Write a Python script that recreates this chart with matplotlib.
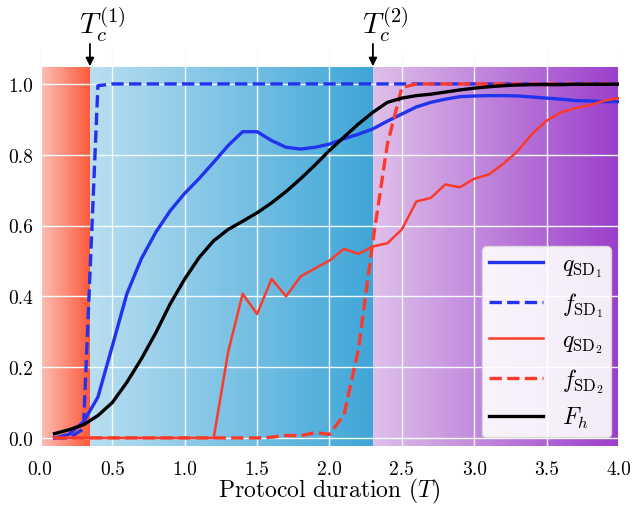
import numpy as np
import matplotlib
matplotlib.use("Agg")
import matplotlib.pyplot as plt
from matplotlib.colors import to_rgb

plt.rcParams['font.family'] = ['serif']
plt.rcParams['font.serif'] = ['cmr10', 'DejaVu Serif']
plt.rcParams['mathtext.fontset'] = 'cm'
plt.rcParams['axes.formatter.use_mathtext'] = True

# ---- data ----
x = [0.1, 0.2, 0.3, 0.4, 0.5, 0.6, 0.7, 0.8, 0.9, 1.0,
     1.1, 1.2, 1.3, 1.4, 1.5, 1.6, 1.7, 1.8, 1.9, 2.0,
     2.1, 2.2, 2.3, 2.4, 2.5, 2.6, 2.7, 2.8, 2.9, 3.0,
     3.1, 3.2, 3.3, 3.4, 3.5, 3.6, 3.7, 3.8, 3.9, 4.0]

q_sd1 = [0.0, 0.01, 0.045, 0.115, 0.26, 0.407, 0.506, 0.581, 0.642, 0.691,
         0.733, 0.779, 0.826, 0.865, 0.865, 0.840, 0.821, 0.816, 0.821, 0.830,
         0.845, 0.858, 0.873, 0.895, 0.915, 0.935, 0.948, 0.957, 0.964, 0.966,
         0.967, 0.967, 0.966, 0.963, 0.960, 0.957, 0.953, 0.952, 0.950, 0.950]

f_sd1 = [0.0, 0.0, 0.025, 0.995, 1.0, 1.0, 1.0, 1.0, 1.0, 1.0,
         1.0, 1.0, 1.0, 1.0, 1.0, 1.0, 1.0, 1.0, 1.0, 1.0,
         1.0, 1.0, 1.0, 1.0, 1.0, 1.0, 1.0, 1.0, 1.0, 1.0,
         1.0, 1.0, 1.0, 1.0, 1.0, 1.0, 1.0, 1.0, 1.0, 1.0]

q_sd2 = [0.0, 0.0, 0.0, 0.0, 0.0, 0.0, 0.0, 0.0, 0.0, 0.0,
         0.0, 0.0, 0.243, 0.407, 0.350, 0.449, 0.400, 0.456, 0.479, 0.501,
         0.534, 0.520, 0.541, 0.550, 0.589, 0.668, 0.678, 0.716, 0.708, 0.732,
         0.744, 0.774, 0.810, 0.859, 0.896, 0.920, 0.932, 0.940, 0.953, 0.960]

f_sd2 = [0.0, 0.0, 0.0, 0.0, 0.0, 0.0, 0.0, 0.0, 0.0, 0.0,
         0.0, 0.0, 0.0, 0.0, 0.0, 0.002, 0.007, 0.006, 0.015, 0.01,
         0.065, 0.25, 0.557, 0.83, 0.99, 1.0, 1.0, 1.0, 1.0, 1.0,
         1.0, 1.0, 1.0, 1.0, 1.0, 1.0, 1.0, 1.0, 1.0, 1.0]

F_h = [0.012, 0.023, 0.037, 0.063, 0.100, 0.157, 0.223, 0.297, 0.379, 0.449,
       0.510, 0.557, 0.589, 0.612, 0.636, 0.664, 0.696, 0.732, 0.771, 0.812,
       0.850, 0.887, 0.920, 0.948, 0.960, 0.967, 0.971, 0.977, 0.983, 0.988,
       0.992, 0.995, 0.997, 0.998, 0.998, 0.998, 0.999, 0.999, 0.999, 0.999]

Tc1 = 0.345
Tc2 = 2.30

xticks = [0.0, 0.5, 1.0, 1.5, 2.0, 2.5, 3.0, 3.5, 4.0]
yticks = [0.0, 0.2, 0.4, 0.6, 0.8, 1.0]

# ---- figure ----
fig = plt.figure(figsize=(6.34, 5.06), dpi=100)
ax = fig.add_axes([0.0631, 0.1172, 0.9132, 0.780])

ybot, ytop_img, ytop = -0.022, 1.047, 1.093
ax.set_xlim(0.0, 4.0)
ax.set_ylim(ybot, ytop)


def gradient(x0, x1, c0, c1):
    c0 = np.array(to_rgb(c0))
    c1 = np.array(to_rgb(c1))
    t = np.linspace(0, 1, 256)[None, :, None]
    img = c0[None, None, :] * (1 - t) + c1[None, None, :] * t
    ax.imshow(img, extent=[x0, x1, ybot, ytop_img], aspect='auto',
              origin='lower', zorder=0, interpolation='bilinear')


gradient(0.015, Tc1, '#fdbdb3', '#fc593b')
gradient(Tc1, Tc2, '#b9def0', '#3fa6d8')
gradient(Tc2, 3.99, '#dfc0ea', '#9b3fcb')
ax.set_xlim(0.0, 4.0)
ax.set_ylim(ybot, ytop)

for s in ax.spines.values():
    s.set_visible(False)
ax.set_facecolor('white')
ax.set_xticks(xticks)
ax.set_yticks(yticks)
ax.set_xticklabels([f"{v:.1f}" for v in xticks])
ax.set_yticklabels([f"{v:.1f}" for v in yticks])
ax.tick_params(axis='both', length=0, labelsize=14)
ax.tick_params(axis='x', pad=10)
ax.tick_params(axis='y', pad=5)
ax.grid(True, color='#f4fbfb', lw=1.0, zorder=1)
ax.set_axisbelow(False)

blue = '#2233ee'
red = '#fc3a2c'
ax.plot(x, q_sd1, color=blue, lw=2.4, label=r'$q_{\mathrm{SD}_1}$', zorder=3)
ax.plot(x, f_sd1, color=blue, lw=2.4, ls='--', label=r'$f_{\mathrm{SD}_1}$', zorder=3)
ax.plot(x, q_sd2, color=red, lw=1.8, label=r'$q_{\mathrm{SD}_2}$', zorder=3)
ax.plot(x, f_sd2, color=red, lw=2.4, ls='--', label=r'$f_{\mathrm{SD}_2}$', zorder=3)
ax.plot(x, F_h, color='black', lw=2.4, label=r'$F_h$', zorder=3)

ax.set_xlabel(r'Protocol duration ($T$)', fontsize=17, labelpad=-1)

for tc, lab in [(Tc1, r'$T_c^{(1)}$'), (Tc2, r'$T_c^{(2)}$')]:
    ax.annotate('', xy=(tc, ytop_img + 0.003), xytext=(tc, ytop + 0.02),
                xycoords='data', textcoords='data',
                arrowprops=dict(arrowstyle='-|>', color='black', lw=1.3,
                                mutation_scale=12, shrinkA=0, shrinkB=0),
                annotation_clip=False)
    ax.text(tc - 0.075, ytop + 0.022, lab, fontsize=21, ha='left', va='bottom',
            transform=ax.transData)

leg = ax.legend(loc='lower right', fontsize=17, handlelength=2.3,
                framealpha=0.9, facecolor='white', edgecolor='#dddddd',
                borderaxespad=0.35, borderpad=0.3, fancybox=True,
                labelspacing=0.45)
leg.set_zorder(5)

fig.savefig('out.png', dpi=100)
